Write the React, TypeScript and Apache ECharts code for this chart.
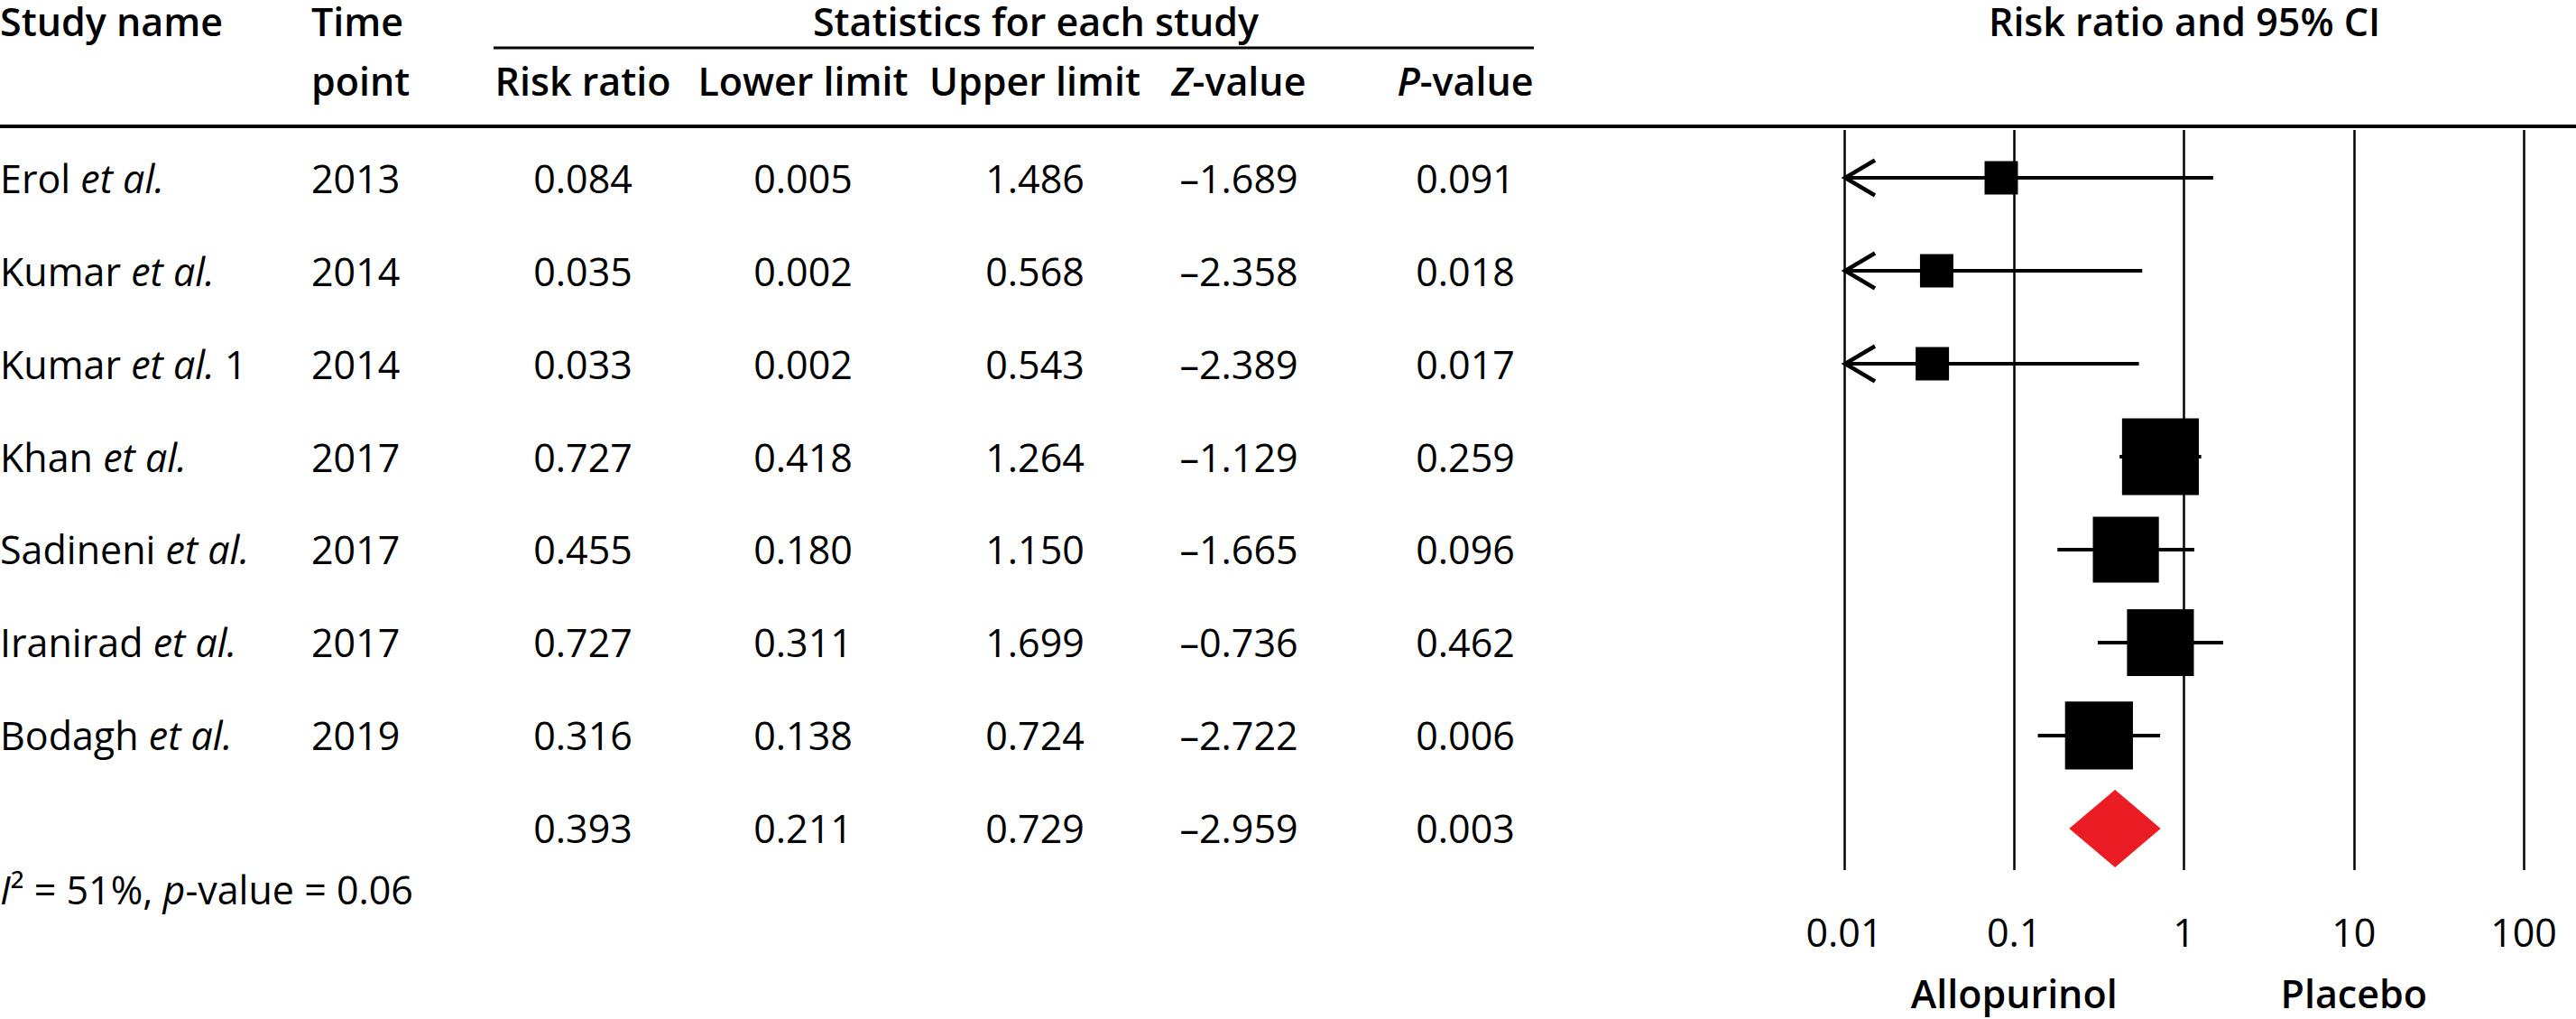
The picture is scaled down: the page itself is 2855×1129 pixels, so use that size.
import React, { useEffect, useRef } from "react";
import * as echarts from "echarts";

// ---------- data ----------
const studyNames = ["Erol", "Kumar", "Kumar", "Khan", "Sadineni", "Iranirad", "Bodagh"];
const studySuffix = ["", "", " 1", "", "", "", ""];
const timePoints = ["2013", "2014", "2014", "2017", "2017", "2017", "2019"];
const riskRatios = [0.084, 0.035, 0.033, 0.727, 0.455, 0.727, 0.316];
const lowerLimits = [0.005, 0.002, 0.002, 0.418, 0.18, 0.311, 0.138];
const upperLimits = [1.486, 0.568, 0.543, 1.264, 1.15, 1.699, 0.724];
const zValues = [-1.689, -2.358, -2.389, -1.129, -1.665, -0.736, -2.722];
const pValues = [0.091, 0.018, 0.017, 0.259, 0.096, 0.462, 0.006];
// relative weights (%)
const studyWeights = [4.9, 4.9, 4.9, 26.0, 19.2, 19.7, 20.3];

const pooledRiskRatio = 0.393;
const pooledLower = 0.211;
const pooledUpper = 0.729;
const pooledZ = -2.959;
const pooledP = 0.003;

const heterogeneityI2 = "51%";
const heterogeneityP = "0.06";

const axisTickValues = [0.01, 0.1, 1, 10, 100];
const axisTickLabels = ["0.01", "0.1", "1", "10", "100"];
const favoursValues = [0.1, 10];
const favoursLabels = ["Allopurinol", "Placebo"];

// ---------- layout / style ----------
const W = 2855;
const H = 1129;
const FONT = "'Open Sans', 'Noto Sans', sans-serif";
const FS = 43;
const LH = 42;
const COL_YEAR_X = 345;
const COL_CENTERS = [646, 890, 1147, 1373, 1624];
const HEADER_Y1 = 23;
const HEADER_Y2 = 89;
const BOX_SCALE = 16.7;
const FAVOURS_Y = 1100;

const fmt = (v: number) => (v < 0 ? "\u2013" : "") + Math.abs(v).toFixed(3);

const richBase = (weight: number | string) => ({
  n: { fontFamily: FONT, fontSize: FS, lineHeight: LH, fontWeight: weight, fill: "#000", color: "#000" },
  i: { fontFamily: FONT, fontSize: FS, lineHeight: LH, fontWeight: weight, fontStyle: "italic", fill: "#000", color: "#000" },
});

const textEl = (
  x: number,
  y: number,
  text: string,
  align: string,
  weight: number | string = 400,
  useRich = false
) => ({
  type: "text",
  x,
  y,
  silent: true,
  style: {
    text,
    fill: "#000",
    fontFamily: FONT,
    fontSize: FS,
    lineHeight: LH,
    fontWeight: weight,
    align,
    textAlign: align,
    verticalAlign: "middle",
    textVerticalAlign: "middle",
    ...(useRich ? { rich: richBase(weight) } : {}),
  },
});

const tableRows = [...studyNames.map((_, i) => i), studyNames.length];

export default function App() {
  const ref = useRef<HTMLDivElement>(null);

  useEffect(() => {
    if (!ref.current) return;
    const chart = echarts.init(ref.current, undefined, { renderer: "svg" });
    const X_MIN = axisTickValues[0];
    const X_MAX = axisTickValues[axisTickValues.length - 1];

    const forestData = riskRatios.map((rr, i) => [rr, i, lowerLimits[i], upperLimits[i], studyWeights[i]]);

    const option: any = {
      animation: false,
      backgroundColor: "#fff",
      grid: { left: 2044, right: W - 2797, top: 144, bottom: H - 964, containLabel: false },
      xAxis: {
        type: "log",
        logBase: 10,
        min: X_MIN,
        max: X_MAX,
        splitNumber: 4,
        axisLine: { show: false },
        axisTick: { show: false },
        splitLine: { show: true, showMinLine: true, showMaxLine: true, lineStyle: { color: "#000", width: 2.5 } },
        axisLabel: {
          show: true,
          showMinLabel: true,
          showMaxLabel: true,
          color: "#000",
          fontFamily: FONT,
          fontSize: FS,
          lineHeight: LH,
          margin: 68,
          verticalAlign: "middle",
          formatter: (v: number) => {
            let best = 0;
            axisTickValues.forEach((t, k) => {
              if (Math.abs(Math.log10(t) - Math.log10(v)) < Math.abs(Math.log10(axisTickValues[best]) - Math.log10(v))) best = k;
            });
            return axisTickLabels[best];
          },
        },
      },
      yAxis: {
        type: "value",
        inverse: true,
        min: -0.515,
        max: 7.447,
        show: false,
        splitLine: { show: false },
      },
      graphic: [
        textEl(0, HEADER_Y1, "Study name", "left", 600),
        textEl(COL_YEAR_X, HEADER_Y1, "Time", "left", 600),
        textEl(COL_YEAR_X, HEADER_Y2, "point", "left", 600),
        textEl(1148, HEADER_Y1, "Statistics for each study", "center", 600),
        textEl(COL_CENTERS[0], HEADER_Y2, "Risk ratio", "center", 600),
        textEl(COL_CENTERS[1], HEADER_Y2, "Lower limit", "center", 600),
        textEl(COL_CENTERS[2], HEADER_Y2, "Upper limit", "center", 600),
        textEl(COL_CENTERS[3], HEADER_Y2, "{i|Z}{n|-value}", "center", 600, true),
        textEl(COL_CENTERS[4], HEADER_Y2, "{i|P}{n|-value}", "center", 600, true),
        textEl(2421, HEADER_Y1, "Risk ratio and 95% CI", "center", 600),
        {
          type: "line",
          silent: true,
          shape: { x1: 547, y1: 53, x2: 1700, y2: 53 },
          style: { stroke: "#000", lineWidth: 3 },
        },
        {
          type: "line",
          silent: true,
          shape: { x1: 0, y1: 140, x2: W, y2: 140 },
          style: { stroke: "#000", lineWidth: 4 },
        },
        textEl(
          0,
          985,
          `{i|I}{n|\u00B2 = ${heterogeneityI2}, }{i|p}{n|-value = ${heterogeneityP}}`,
          "left",
          400,
          true
        ),
      ],
      series: [
        {
          type: "custom",
          name: "table",
          coordinateSystem: "cartesian2d",
          clip: false,
          silent: true,
          data: tableRows.map((r) => [1, r]),
          encode: { x: 0, y: 1 },
          renderItem: (params: any, api: any) => {
            const row = api.value(1);
            const y = api.coord([1, row])[1];
            const i = params.dataIndex;
            const children: any[] = [];
            if (i < studyNames.length) {
              children.push(textEl(0, y, `{n|${studyNames[i]} }{i|et al.}${studySuffix[i] ? `{n|${studySuffix[i]}}` : ""}`, "left", 400, true));
              children.push(textEl(COL_YEAR_X, y, timePoints[i], "left"));
              const vals = [riskRatios[i], lowerLimits[i], upperLimits[i], zValues[i], pValues[i]];
              vals.forEach((v, k) => children.push(textEl(COL_CENTERS[k], y, fmt(v), "center")));
            } else {
              const vals = [pooledRiskRatio, pooledLower, pooledUpper, pooledZ, pooledP];
              vals.forEach((v, k) => children.push(textEl(COL_CENTERS[k], y, fmt(v), "center")));
            }
            return { type: "group", children };
          },
        },
        {
          type: "custom",
          name: "studies",
          coordinateSystem: "cartesian2d",
          clip: false,
          silent: true,
          data: forestData,
          encode: { x: 0, y: 1 },
          renderItem: (params: any, api: any) => {
            const rr = api.value(0);
            const row = api.value(1);
            const lo = api.value(2);
            const hi = api.value(3);
            const w = api.value(4);
            const [cx, cy] = api.coord([rr, row]);
            const xl = api.coord([Math.max(lo, X_MIN), row])[0];
            const xh = api.coord([Math.min(hi, X_MAX), row])[0];
            const side = BOX_SCALE * Math.sqrt(w);
            const children: any[] = [
              {
                type: "line",
                shape: { x1: xl, y1: cy, x2: xh, y2: cy },
                style: { stroke: "#000", lineWidth: 4 },
              },
              {
                type: "rect",
                shape: { x: cx - side / 2, y: cy - side / 2, width: side, height: side },
                style: { fill: "#000" },
              },
            ];
            if (lo < X_MIN) {
              children.push({
                type: "polyline",
                shape: { points: [[xl + 34, cy - 19.5], [xl + 1, cy], [xl + 34, cy + 19.5]] },
                style: { stroke: "#000", lineWidth: 4.5, fill: "none" },
              });
            }
            return { type: "group", children };
          },
        },
        {
          type: "custom",
          name: "pooled",
          coordinateSystem: "cartesian2d",
          clip: false,
          silent: true,
          data: [[pooledRiskRatio, studyNames.length, pooledLower, pooledUpper]],
          encode: { x: 0, y: 1 },
          renderItem: (params: any, api: any) => {
            const row = api.value(1);
            const [cx, cy] = api.coord([api.value(0), row]);
            const xl = api.coord([api.value(2), row])[0];
            const xh = api.coord([api.value(3), row])[0];
            const hh = 43;
            return {
              type: "polygon",
              shape: { points: [[xl, cy], [cx, cy - hh], [xh, cy], [cx, cy + hh]] },
              style: { fill: "#EC1C24" },
            };
          },
        },
        {
          type: "custom",
          name: "favours",
          coordinateSystem: "cartesian2d",
          clip: false,
          silent: true,
          data: favoursValues.map((v) => [v, 0]),
          encode: { x: 0, y: 1 },
          renderItem: (params: any, api: any) => {
            const x = api.coord([api.value(0), 0])[0];
            return textEl(x, FAVOURS_Y, favoursLabels[params.dataIndex], "center", 600);
          },
        },
      ],
    };

    chart.setOption(option);
    return () => chart.dispose();
  }, []);

  return (
    <div
      ref={ref}
      style={{ position: "absolute", left: 0, top: 0, width: W, height: H, background: "#fff" }}
    />
  );
}
